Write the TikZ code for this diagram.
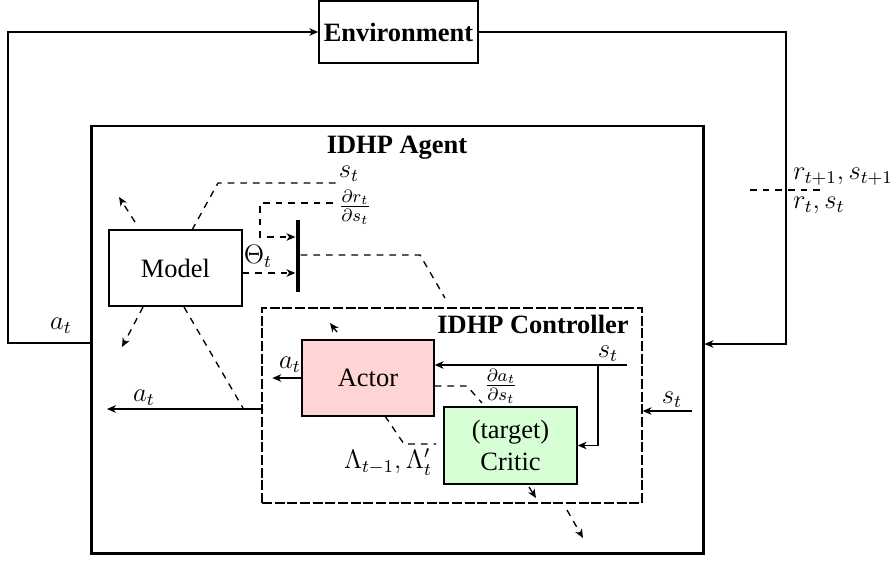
\documentclass[tikz,border=0pt]{standalone}
\usepackage{fontspec}
\setmainfont{Liberation Serif}
\usetikzlibrary{arrows.meta}
\newcommand{\gross}{\fontsize{11.9}{14.3}\selectfont}

\begin{document}
\begin{tikzpicture}[x=0.45pt,y=-0.45pt,line width=0.6pt,
	>={Stealth[length=4pt,width=3.4pt,inset=1.2pt]},
	every node/.style={font=\gross,inner sep=1.5pt},
	titel/.style={font=\gross\bfseries},
	kasten/.style={draw,inner sep=0pt,align=center,font=\gross},
	strich/.style={dash pattern=on 3pt off 2.7pt}]

	\useasboundingbox (0,0) rectangle (890,561);

	% Kaesten
	\node[kasten,font=\gross\bfseries,minimum width=71.6pt,minimum height=27.9pt] (env) at (398.5,32) {Environment};
	\node[kasten,line width=1.3pt,minimum width=275pt,minimum height=192.2pt] (agent) at (397.5,339.5) {};
	\node[titel,anchor=base] at (397,153) {IDHP Agent};

	\node[kasten,minimum width=59.9pt,minimum height=34.2pt] (model) at (175.5,268) {Model};
	\node[fill=black,inner sep=0pt,minimum width=1.8pt,minimum height=32.4pt] (bar) at (298,256) {};

	\node[kasten,dash pattern=on 4.5pt off 1.2pt,minimum width=171pt,minimum height=87.8pt] (ctrl) at (452,405.5) {};
	\node[titel,anchor=base] at (533,333) {IDHP Controller};
	\node[kasten,fill=red!17,minimum width=59.4pt,minimum height=34.2pt] (actor) at (368,378) {Actor};
	\node[kasten,fill=green!16,minimum width=59.9pt,minimum height=34.7pt] (critic) at (510.5,445.5) {(target)\\Critic};

	% Regelkreis
	\coordinate (loopL) at (8,343);
	\coordinate (loopR) at (786,344);
	\draw[->] (agent.west |- loopL) -- (loopL) |- (env.west);
	\draw[->] (env.east) -| (loopR) -- (agent.east |- loopR);
	\draw[strich] (750,190) -- (820,190);
	\node[anchor=west] at (789,177) {$r_{t+1}, s_{t+1}$};
	\node[anchor=west] at (789,205) {$r_t, s_t$};
	\node at (61,326) {$a_t$};

	% Modell
	\draw[strich,->] (135,222) -- (119,197);
	\draw[strich] (192,230) -- (218,183) -- (337,183);
	\draw[strich,->] (333,203) -| (260,237) -- (bar.west |- 0,237);
	\draw[strich,->] (model.east |- 0,273) -- (bar.west |- 0,273);
	\draw[strich] (bar.east |- 0,255) -- (420,255) -- (445,298);
	\draw[strich,->] (143,307) -- (122,347);
	\draw[strich] (184,307) -- (243,408);
	\node at (349,174) {$s_t$};
	\node at (355,207) {$\frac{\partial r_t}{\partial s_t}$};
	\node at (258,256) {$\Theta_t$};

	% Regler
	\coordinate (sC) at (627,365);
	\coordinate (br) at (598,365);
	\draw[->] (ctrl.west |- 0,409) -- (107,409);
	\draw[->] (692,411) -- (ctrl.east |- 0,411);
	\draw[->] (sC) -- (actor.east |- sC);
	\draw[->] (br) |- (critic.east);
	\draw[->] (actor.west) -- ++(-29,0);
	\draw[strich] (actor.east |- 0,386) -- (467,386) -- (482,403);
	\draw[strich] (385,416) -- (404,444) -- (436,444);
	\draw[strich,->] (337,332) -- (330,323);
	\draw[strich,->] (529,487) -- (536,498);
	\draw[strich,->] (567,510) -- (583,538);
	\node at (144,398) {$a_t$};
	\node at (290,365) {$a_t$};
	\node at (608,354) {$s_t$};
	\node at (672,400) {$s_t$};
	\node at (501,386) {$\frac{\partial a_t}{\partial s_t}$};
	\node at (388,462) {$\Lambda_{t-1}, \Lambda'_t$};
\end{tikzpicture}
\end{document}
